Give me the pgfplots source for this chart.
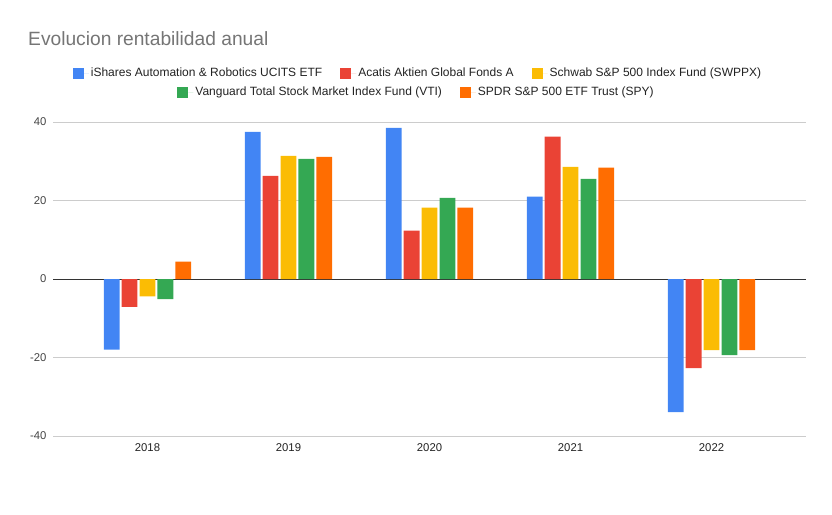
\documentclass[border=0pt]{standalone}
\usepackage{pgfplots}
\pgfplotsset{compat=1.18}
\usepackage{fontspec}
\setmainfont{Liberation Sans}
\definecolor{cblue}{HTML}{4285F4}
\definecolor{cred}{HTML}{EA4335}
\definecolor{cyellow}{HTML}{FBBC04}
\definecolor{cgreen}{HTML}{34A853}
\definecolor{corange}{HTML}{FF6D01}
\definecolor{tgray}{HTML}{757575}
\definecolor{lgray}{HTML}{444444}
\definecolor{dgray}{HTML}{222222}
\definecolor{ggray}{HTML}{CCCCCC}
\pgfplotsset{
  legstyle/.style={
    legend style={draw=none, fill=none, font=\fontsize{12}{14}\selectfont, text=dgray,
      /tikz/every even column/.append style={column sep=16pt}},
    legend image code/.code={\fill[##1] (0pt,-5.5pt) rectangle (11pt,5.5pt); \path (11pt,0pt) -- (16pt,0pt);},
  }
}
\begin{document}
\begin{tikzpicture}
\path[use as bounding box] (-53pt,-78pt) rectangle (779pt,436pt);
\begin{axis}[
  at={(0pt,0pt)}, anchor=south west,
  scale only axis, width=753pt, height=314pt,
  xmin=-0.67, xmax=4.67, ymin=-40, ymax=40,
  ybar=2.1pt, bar width=15.8pt,
  axis line style={draw=none},
  xtick={0,1,2,3,4}, xticklabels={2018,2019,2020,2021,2022},
  ytick={-40,-20,20,40},
  extra y ticks={0},
  extra y tick style={grid style={color=black!80, line width=1pt}},
  ymajorgrids, grid style={color=ggray, line width=0.8pt},
  major tick length=0pt,
  /pgf/number format/assume math mode=true,
  yticklabel style={font=\fontsize{11.3}{13}\selectfont, text=lgray, xshift=-3pt},
  xticklabel style={font=\fontsize{11.3}{13}\selectfont, text=dgray, yshift=-4pt},
  legstyle,
  legend style={at={(axis description cs:0.4847,1.156)}, anchor=center},
  legend columns=3,
]
\addplot[fill=cblue, draw=none] coordinates {(0,-18.0) (1,37.5) (2,38.5) (3,21.0) (4,-33.9)};
\addlegendentry{iShares Automation \& Robotics UCITS ETF}
\addplot[fill=cred, draw=none] coordinates {(0,-7.1) (1,26.3) (2,12.3) (3,36.3) (4,-22.7)};
\addlegendentry{Acatis Aktien Global Fonds A}
\addplot[fill=cyellow, draw=none] coordinates {(0,-4.4) (1,31.4) (2,18.2) (3,28.6) (4,-18.1)};
\addlegendentry{Schwab S\&P 500 Index Fund (SWPPX)}
\addplot[fill=cgreen, draw=none] coordinates {(0,-5.1) (1,30.6) (2,20.7) (3,25.5) (4,-19.4)};
\addplot[fill=corange, draw=none] coordinates {(0,4.4) (1,31.1) (2,18.2) (3,28.4) (4,-18.1)};
\end{axis}
\begin{axis}[
  at={(0pt,0pt)}, anchor=south west,
  scale only axis, width=753pt, height=314pt,
  xmin=0, xmax=1, ymin=0, ymax=1, hide axis,
  legstyle,
  legend style={at={(axis description cs:0.4827,1.0955)}, anchor=center},
  legend columns=2,
]
\addlegendimage{fill=cgreen, draw=none}
\addlegendentry{Vanguard Total Stock Market Index Fund (VTI)}
\addlegendimage{fill=corange, draw=none}
\addlegendentry{SPDR S\&P 500 ETF Trust (SPY)}
\end{axis}
\node[anchor=base west, inner sep=0pt, text=tgray, font=\fontsize{19.2}{22}\selectfont] at (-25pt,390pt) {Evolucion rentabilidad anual};
\end{tikzpicture}
\end{document}
